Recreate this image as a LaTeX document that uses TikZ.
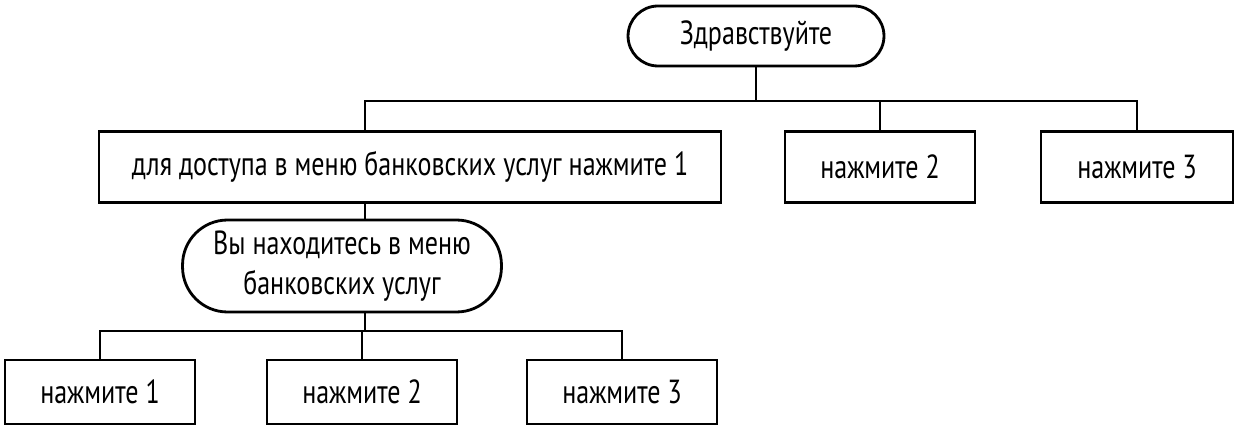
\documentclass[tikz,border=0pt]{standalone}
\usepackage{fontspec}
\setmainfont[FakeStretch=0.78]{PT Sans}
\begin{document}
\begin{tikzpicture}[x=0.02cm,y=-0.02cm,line width=1.6pt,font=\fontsize{19}{23}\selectfont]
\tikzset{menubox/.style={draw, rectangle, minimum height=1.42cm, inner sep=0pt},
         greetbox/.style={draw, rounded corners=0.6cm, inner sep=0pt}}
\useasboundingbox (0,0) rectangle (1239,432);

\node[greetbox, minimum width=5.12cm, minimum height=1.2cm] (hello) at (756,36) {Здравствуйте};
\node[menubox, minimum width=12.44cm] (bank) at (410,167) {для доступа в меню банковских услуг нажмите 1};
\node[menubox, minimum width=3.8cm] (p2) at (880,167) {нажмите 2};
\node[menubox, minimum width=3.84cm] (p3) at (1137,167) {нажмите 3};
\node[greetbox, minimum width=6.38cm, minimum height=1.84cm, align=center, rounded corners=0.9cm] (inbank) at (342,266) {Вы находитесь в меню\\банковских услуг};
\node[menubox, minimum width=3.8cm, minimum height=1.28cm] (q1) at (100,392) {нажмите 1};
\node[menubox, minimum width=3.8cm, minimum height=1.28cm] (q2) at (362,392) {нажмите 2};
\node[menubox, minimum width=3.8cm, minimum height=1.28cm] (q3) at (622,392) {нажмите 3};

\coordinate (busA) at (0,101);
\coordinate (busB) at (0,331);
\coordinate (busC) at (365,0);

\draw (hello.south) -- (hello.south|-busA) -| (busC|-bank.north);
\draw (hello.south|-busA) -| (p2.north);
\draw (hello.south|-busA) -| (p3.north);
\draw (busC|-bank.south) -- (busC|-inbank.north);
\draw (busC|-inbank.south) -- (busC|-busB) -| (q1.north);
\draw (busC|-busB) -| (q2.north);
\draw (busC|-busB) -| (q3.north);
\end{tikzpicture}
\end{document}
